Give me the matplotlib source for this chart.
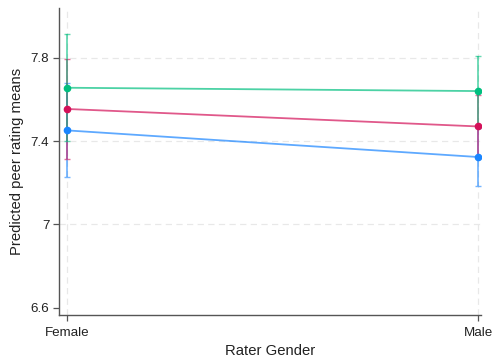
import numpy as np
import matplotlib.pyplot as plt

plt.rcParams['font.family'] = ['Liberation Sans', 'DejaVu Sans']

genders = ["Female", "Male"]
# predicted means and CI half-widths per group
blue_mean = [7.452, 7.324]
blue_ci = [0.226, 0.138]
red_mean = [7.555, 7.471]
red_ci = [0.240, 0.150]
green_mean = [7.657, 7.641]
green_ci = [0.258, 0.170]

colors = ["#1a85ff", "#d41159", "#00bf7f"]
series = [(blue_mean, blue_ci), (red_mean, red_ci), (green_mean, green_ci)]

fig = plt.figure(figsize=(4.93, 3.59), dpi=100)
ax = fig.add_axes([0.1197, 0.1226, 0.8563, 0.855])

x = np.arange(len(genders))
for (m, ci), c in zip(series, colors):
    ax.errorbar(x, m, yerr=ci, fmt='none', ecolor=c, alpha=0.6,
                elinewidth=1.3, capsize=2.5, capthick=1.0, zorder=2)
    ax.plot(x, m, color=c, lw=1.3, alpha=0.7, zorder=3)
    ax.plot(x, m, 'o', color=c, ms=4.5, zorder=4)

ax.set_xlim(-0.02, 1.007)
ax.set_ylim(6.565, 8.04)
ax.set_yticks([6.6, 7.0, 7.4, 7.8])
ax.set_yticklabels(["6.6", "7", "7.4", "7.8"])
ax.set_xticks(x)
ax.set_xticklabels(genders)

# dashed reference lines (none at the bottom tick)
for yv in [7.0, 7.4, 7.8]:
    ax.axhline(yv, ls=(0, (5, 3.5)), color="#e8e8e8", lw=0.9, zorder=0)
for xv in x:
    ax.axvline(xv, ls=(0, (5, 3.5)), color="#e8e8e8", lw=0.9, zorder=0)

for s in ["top", "right"]:
    ax.spines[s].set_visible(False)
for s in ["left", "bottom"]:
    ax.spines[s].set_color("#555555")
    ax.spines[s].set_linewidth(1.0)
ax.tick_params(axis='both', length=4, width=0.9, color="#555555",
               labelsize=9.6, labelcolor="#222222", pad=3)
ax.tick_params(axis='x', pad=5)

ax.set_ylabel("Predicted peer rating means", fontsize=10.7, color="#222222", labelpad=5)
ax.set_xlabel("Rater Gender", fontsize=10.7, color="#222222", labelpad=3)

fig.savefig("out.png", dpi=100, facecolor="white")
